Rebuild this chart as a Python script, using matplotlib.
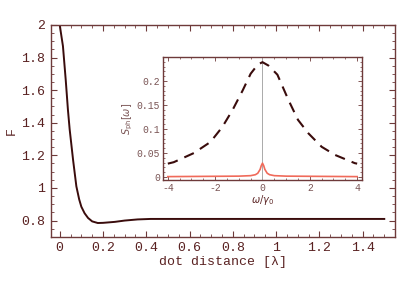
import numpy as np
import matplotlib.pyplot as plt
from matplotlib.ticker import MultipleLocator

# main curve: F vs dot distance
dist = [0, 0.015, 0.028, 0.038, 0.046, 0.062, 0.077, 0.09, 0.10, 0.115,
        0.131, 0.15, 0.176, 0.2, 0.255, 0.3, 0.36, 0.42, 0.5, 0.7, 1.0, 1.5]
F = [2.0, 1.87, 1.66, 1.48, 1.36, 1.17, 1.01, 0.93, 0.885, 0.845,
     0.816, 0.795, 0.785, 0.786, 0.792, 0.80, 0.807, 0.81, 0.81, 0.81, 0.81, 0.81]

# inset: photon spectra
w_dash = [-4.0, -3.75, -2.9, -2.2, -1.7, -1.26, -0.84, -0.5, -0.2, 0,
          0.25, 0.63, 1.1, 1.5, 1.94, 2.5, 3.07, 3.9, 4.0]
S_dash = [0.028, 0.031, 0.05, 0.073, 0.104, 0.14, 0.18, 0.215, 0.234, 0.239,
          0.232, 0.213, 0.16, 0.119, 0.091, 0.063, 0.046, 0.029, 0.028]
w_red = [-4, -1, -0.5, -0.3, -0.2, -0.1, -0.05, 0, 0.05, 0.1, 0.2, 0.3, 0.5, 1, 4]
S_red = [0.001, 0.002, 0.003, 0.005, 0.008, 0.016, 0.024, 0.029, 0.024,
         0.016, 0.008, 0.005, 0.003, 0.002, 0.001]

frame = '#6e3a3a'
txt = '#5a2222'
mono = ['Liberation Mono', 'DejaVu Sans Mono']

fig = plt.figure(figsize=(4.15, 2.83), dpi=100)
ax = fig.add_axes([0.123, 0.163, 0.829, 0.749])
ax.plot(dist, F, color='#3a0c0c', lw=1.4)
ax.set_xlim(-0.04, 1.55)
ax.set_ylim(0.7, 2.0)
ax.xaxis.set_major_locator(MultipleLocator(0.2))
ax.xaxis.set_minor_locator(MultipleLocator(0.05))
ax.yaxis.set_major_locator(MultipleLocator(0.2))
ax.yaxis.set_minor_locator(MultipleLocator(0.05))
ax.set_xticks([0, 0.2, 0.4, 0.6, 0.8, 1.0, 1.2, 1.4])
ax.set_xticklabels(['0', '0.2', '0.4', '0.6', '0.8', '1', '1.2', '1.4'])
ax.set_yticks([0.8, 1.0, 1.2, 1.4, 1.6, 1.8, 2.0])
ax.set_yticklabels(['0.8', '1', '1.2', '1.4', '1.6', '1.8', '2'])
ax.tick_params(which='both', direction='in', top=True, right=True, colors=frame,
               labelcolor=txt, labelsize=9.5, pad=4)
ax.tick_params(which='major', length=4, width=0.8)
ax.tick_params(which='minor', length=2, width=0.6)
for lab in ax.get_xticklabels() + ax.get_yticklabels():
    lab.set_family(mono)
for s in ax.spines.values():
    s.set_color(frame)
    s.set_linewidth(1.0)
ax.set_xlabel('dot distance [λ]', family=mono, fontsize=9.5, color=txt, labelpad=1)
ax.set_ylabel('F', family=mono, fontsize=9.5, color=txt, labelpad=3)

ins = fig.add_axes([0.393, 0.364, 0.479, 0.435])
ins.axvline(0, color='#aaaaaa', lw=0.7)
ins.plot(w_dash, S_dash, color='#3a0c0c', lw=1.5, dashes=(5, 3.5))
ins.plot(w_red, S_red, color='#f06a5a', lw=1.2)
ins.set_xlim(-4.2, 4.2)
ins.set_ylim(-0.006, 0.25)
ins.set_xticks([-4, -2, 0, 2, 4])
ins.set_xticklabels(['-4', '-2', '0', '2', '4'])
ins.xaxis.set_minor_locator(MultipleLocator(0.5))
ins.set_yticks([0, 0.05, 0.1, 0.15, 0.2])
ins.set_yticklabels(['0', '0.05', '0.1', '0.15', '0.2'])
ins.yaxis.set_minor_locator(MultipleLocator(0.01))
ins.tick_params(which='both', direction='in', top=True, right=True, colors=frame,
                labelcolor='#7a5555', labelsize=7, pad=2)
ins.tick_params(which='major', length=3, width=0.6)
ins.tick_params(which='minor', length=1.5, width=0.5)
for lab in ins.get_xticklabels() + ins.get_yticklabels():
    lab.set_family(mono)
for s in ins.spines.values():
    s.set_color(frame)
    s.set_linewidth(1.0)
ins.set_xlabel(r'$\omega/\gamma_0$', fontsize=7, color=txt, labelpad=0)
ins.set_ylabel(r'$S_{\rm ph}[\omega]$', fontsize=7, color='#7a5555', labelpad=1)

fig.savefig('out.png', dpi=100)
